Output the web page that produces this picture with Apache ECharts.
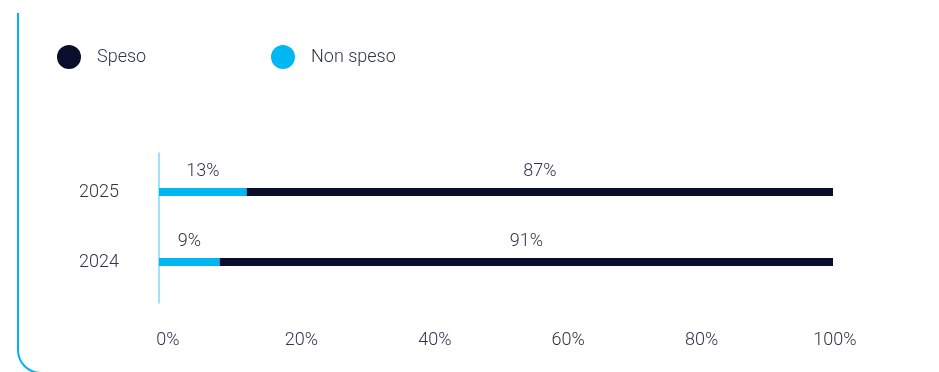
<!DOCTYPE html>
<html>
<head>
<meta charset="utf-8">
<script src="https://cdn.jsdelivr.net/npm/echarts@6/dist/echarts.min.js"></script>
<style>
  html, body { margin: 0; padding: 0; background: #ffffff; overflow: hidden; }
  #wrap { position: relative; width: 939px; height: 372px; overflow: hidden; }
  #card {
    position: absolute; left: 17px; top: 13px; width: 1200px; bottom: -2px;
    border-left: 2px solid #00b4f0; border-bottom: 2px solid #00b4f0;
    border-bottom-left-radius: 24px; box-sizing: border-box;
  }
  #chart { position: absolute; left: 0; top: 0; width: 939px; height: 372px; }
</style>
</head>
<body>
<div id="wrap">
  <div id="card"></div>
  <div id="chart"></div>
</div>
<script>
// Years shown on the category axis (top to bottom)
const years = ['2025', '2024'];
// Share of the budget spent / not spent, in percent
const spesoValues = [87, 91];
const nonSpesoValues = [13, 9];
// Value axis range and tick step
const axisMin = 0;
const axisMax = 100;
const axisStep = 20;

const NAVY = '#0a0d2b';
const CYAN = '#00b7f1';
const TEXT = '#33334a';
const FONT = 'Roboto, "Noto Sans", sans-serif';
const FS = 18;

const chart = echarts.init(document.getElementById('chart'), null, { renderer: 'canvas' });

const labelStyle = {
  show: true,
  position: 'top',
  distance: 8,
  formatter: '{c}%',
  color: TEXT,
  fontSize: FS,
  fontWeight: 300,
  fontFamily: FONT
};

const legendText = { color: TEXT, fontSize: FS, fontWeight: 300, fontFamily: FONT, padding: [0, 0, 0, 11] };

chart.setOption({
  animation: false,
  textStyle: { fontFamily: FONT },
  legend: [
    {
      data: ['Speso'], left: 57, top: 45, padding: 0, icon: 'circle',
      itemWidth: 24, itemHeight: 24, textStyle: legendText
    },
    {
      data: ['Non speso'], left: 271, top: 45, padding: 0, icon: 'circle',
      itemWidth: 24, itemHeight: 24, textStyle: legendText
    }
  ],
  grid: [
    // bars
    { left: 159, right: 106, top: 157, height: 140 },
    // vertical base line
    { left: 159, right: 106, top: 153, height: 150 },
    // percentage scale under the bars
    { left: 168, right: 104, top: 157, height: 140 }
  ],
  xAxis: [
    {
      type: 'value', gridIndex: 0, min: axisMin, max: axisMax, interval: axisStep,
      axisLine: { show: false }, axisTick: { show: false }, splitLine: { show: false },
      axisLabel: { show: false }
    },
    { type: 'value', gridIndex: 1, min: axisMin, max: axisMax, show: false },
    {
      type: 'value', gridIndex: 2, min: axisMin, max: axisMax, interval: axisStep,
      axisLine: { show: false }, axisTick: { show: false }, splitLine: { show: false },
      axisLabel: {
        formatter: '{value}%', color: TEXT, fontSize: FS, fontWeight: 300,
        fontFamily: FONT, margin: 34
      }
    }
  ],
  yAxis: [
    {
      type: 'category', gridIndex: 0, data: years, inverse: true,
      axisLine: { show: false }, axisTick: { show: false },
      axisLabel: { color: TEXT, fontSize: FS, fontWeight: 300, fontFamily: FONT, margin: 40, padding: [3, 0, 0, 0] }
    },
    {
      type: 'category', gridIndex: 1, data: [''],
      axisLine: { show: true, lineStyle: { color: '#7fd7f4', width: 1.5 } },
      axisTick: { show: false }, axisLabel: { show: false }
    },
    { type: 'category', gridIndex: 2, data: [''], show: false }
  ],
  series: [
    {
      name: 'Non speso', type: 'bar', stack: 'total', xAxisIndex: 0, yAxisIndex: 0,
      barWidth: 8, data: nonSpesoValues,
      itemStyle: { color: CYAN }, label: labelStyle
    },
    {
      name: 'Speso', type: 'bar', stack: 'total', xAxisIndex: 0, yAxisIndex: 0,
      barWidth: 8, data: spesoValues,
      itemStyle: { color: NAVY }, label: labelStyle
    }
  ]
});
</script>
</body>
</html>
